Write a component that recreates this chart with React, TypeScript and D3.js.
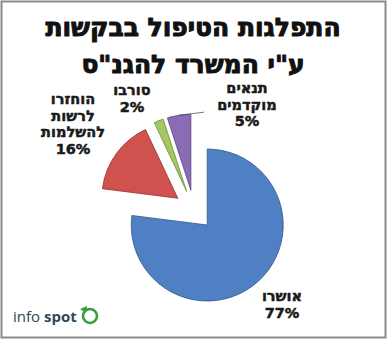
import React from "react";
import * as d3 from "d3";

const categories = ["אושרו", "הוחזרו לרשות להשלמות", "סורבו", "תנאים מוקדמים"];
const values = [77, 16, 2, 5];
const colors = ["#3d6db3", "#b8403d", "#8fb34a", "#7357a0"];
const lightColors = ["#4f80c4", "#d0524f", "#a3c763", "#8a6bb5"];
const labelLines = [["אושרו", "77%"], ["הוחזרו", "לרשות", "להשלמות", "16%"], ["סורבו", "2%"], ["תנאים", "מוקדמים", "5%"]];
const titleLines = ["התפלגות הטיפול בבקשות", 'ע"י המשרד להגנ"ס'];

const W = 387, H = 339;
const cx = 194, cy = 210, R = 76, explode = 20;
const labelPos: [number, number][] = [[282, 301], [73, 104], [132, 95], [247, 93]];
const lineH = [17, 16.5, 17, 16.5];

export default function App() {
  const pie = d3.pie<number>().sort(null).startAngle(0).endAngle(2 * Math.PI);
  const arcs = pie(values);
  const arcGen = d3.arc<d3.PieArcDatum<number>>().innerRadius(0).outerRadius(R);
  const font = "'DejaVu Sans', sans-serif";
  return (
    <svg width={W} height={H} style={{ position: "absolute", left: 0, top: 0 }} fontFamily={font}>
      <defs>
        {colors.map((c, i) => (
          <radialGradient key={i} id={`g${i}`} gradientUnits="userSpaceOnUse" cx={cx} cy={cy} r={R + explode}>
            <stop offset="0%" stopColor={c} />
            <stop offset="100%" stopColor={lightColors[i]} />
          </radialGradient>
        ))}
      </defs>
      <rect x={0} y={0} width={W} height={H} fill="#ffffff" />
      <rect x={1.5} y={1.5} width={W - 3} height={H - 3} fill="none" stroke="#8a8a8a" strokeWidth={2} />
      {titleLines.map((t, i) => (
        <text key={i} x={193} y={36 + i * 37} textAnchor="middle" direction="rtl" fontSize={25} fontWeight="bold"
          fill="#111" stroke="#111" strokeWidth={1} strokeLinejoin="round">
          {t}
        </text>
      ))}
      {arcs.map((a, i) => {
        const mid = (a.startAngle + a.endAngle) / 2;
        const dx = Math.sin(mid) * explode;
        const dy = -Math.cos(mid) * explode;
        return (
          <path key={i} d={arcGen(a) || ""} transform={`translate(${cx + dx},${cy + dy})`} fill={`url(#g${i})`}
            stroke={d3.color(colors[i])!.darker(0.7).toString()} strokeWidth={0.8} />
        );
      })}
      {(() => {
        const a = arcs[3];
        const mid = (a.startAngle + a.endAngle) / 2;
        const px = cx + Math.sin(mid) * (explode + R);
        const py = cy - Math.cos(mid) * (explode + R);
        return <polyline points={`${px},${py} ${px + 25},${py - 3} `} fill="none" stroke="#555" strokeWidth={0.8} />;
      })()}
      {labelLines.map((lines, i) => (
        <text key={i} textAnchor="middle" direction="rtl" fontSize={14.5} fontWeight="bold" fill="#1a1a1a"
          stroke="#1a1a1a" strokeWidth={0.5} strokeLinejoin="round">
          {lines.map((l, j) => (
            <tspan key={j} x={labelPos[i][0]} y={labelPos[i][1] + j * lineH[i]}>{l}</tspan>
          ))}
        </text>
      ))}
      <text x={13} y={322} fontSize={15} fill="#2f4a58" fontFamily="'Open Sans', 'DejaVu Sans', sans-serif">
        info <tspan fontWeight="bold">spot</tspan>
      </text>
      <circle cx={90} cy={316} r={7} fill="none" stroke="#3a9e3a" strokeWidth={2.6} />
      <path d="M80,309 L87,306 L86,313 Z" fill="#3a9e3a" />
    </svg>
  );
}
